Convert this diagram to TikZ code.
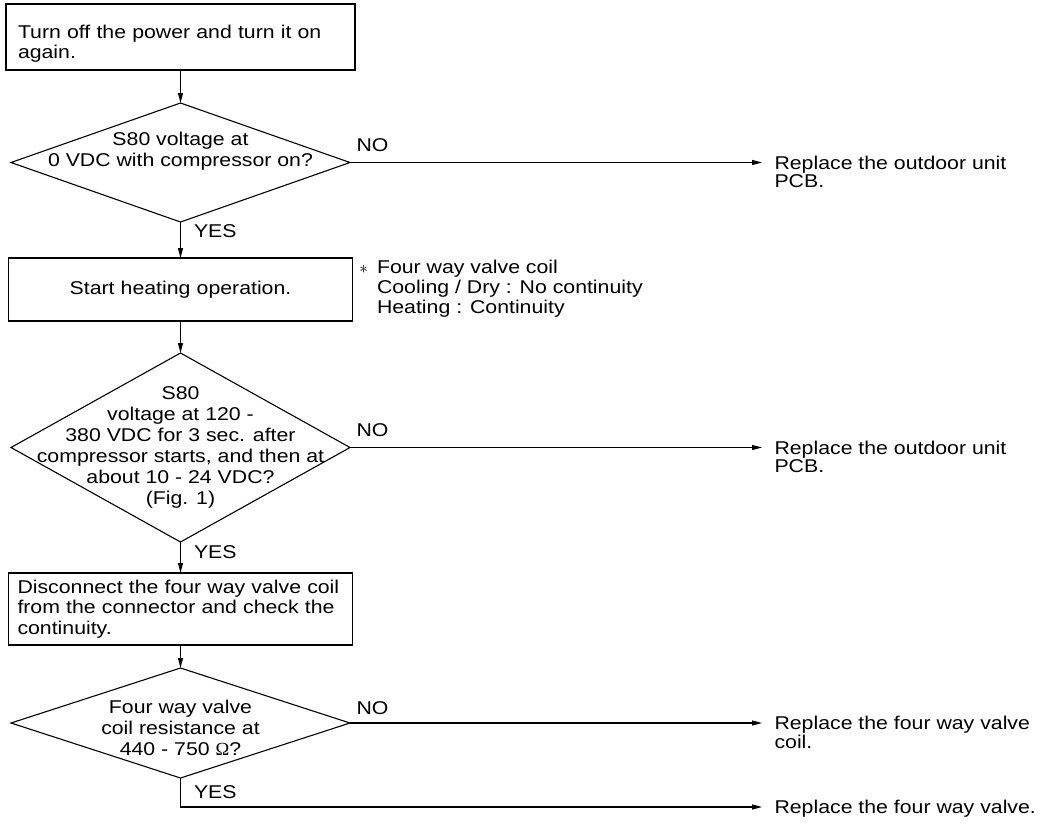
\documentclass[tikz,border=0pt]{standalone}
\usepackage{fontspec}
\setmainfont{Liberation Sans}[FakeStretch=1.15]
\newfontfamily\omegafont{Liberation Serif}
\usetikzlibrary{arrows.meta,positioning,shapes.geometric}

\begin{document}
\begin{tikzpicture}[
  x=1pt,y=-1pt,
  line width=1.1pt,
  font=\fontsize{18.5}{20.5}\selectfont,
  box/.style={draw,rectangle,inner ysep=0pt,outer sep=0pt,align=left},
  dia/.style={draw,diamond,minimum width=339pt,inner sep=0pt,outer sep=0pt},
  dtext/.style={align=center,inner sep=0pt,font=\fontsize{18.5}{21}\selectfont},
  res/.style={anchor=north west,align=left,inner sep=0pt,font=\fontsize{18.5}{18.5}\selectfont},
  lab/.style={inner sep=0pt},
  arr/.style={-{Triangle[length=10pt,width=5pt]}}
]
\useasboundingbox (0,0) rectangle (1044,823);
\coordinate (out) at (762,0);

\node[box,text width=325pt,inner xsep=12pt,minimum height=66pt] (power) at (180.5,37) {\rule{0pt}{27pt}Turn off the power and turn it on\\again.};
\node[dia,minimum height=119pt,below=33pt of power] (zero) {};
\node[dtext] (zerotext) at ([yshift=11pt]zero.center) {S80 voltage at\\0 VDC with compressor on?};
\node[box,text width=344pt,inner xsep=0pt,minimum height=63pt,align=center,below=36pt of zero] (heat) {Start heating operation.};
\node[res,font=\fontsize{18.5}{20}\selectfont] (note) at ([xshift=24pt,yshift=-2pt]heat.north east) {\llap{$\ast$\hspace{9pt}}Four way valve coil\\Cooling / Dry : No continuity\\Heating : Continuity};
\node[dia,minimum height=189pt,below=32pt of heat] (range) {};
\node[dtext] (rangetext) at (range.center) {S80\\voltage at 120 -\\380 VDC for 3 sec. after\\compressor starts, and then at\\about 10 - 24 VDC?\\(Fig. 1)};
\node[box,text width=326pt,inner xsep=9pt,minimum height=72pt,below=31pt of range] (coil) {Disconnect the four way valve coil\\from the connector and check the\\continuity.};
\node[dia,minimum height=110pt,below=23pt of coil] (ohm) {};
\node[dtext] (ohmtext) at ([yshift=-5pt]ohm.center) {Four way valve\\coil resistance at\\440 - 750 {\omegafont Ω}?};

% main line
\draw[arr] (power) -- (zero);
\draw[arr] (zero) -- (heat);
\draw[arr] (heat) -- (range);
\draw[arr] (range) -- (coil);
\draw[arr] (coil) -- (ohm);
\node[lab,anchor=north west] (yesA) at ([xshift=13pt,yshift=-2pt]zero.south) {YES};
\node[lab,anchor=north west] (yesB) at ([xshift=13pt,yshift=-3pt]range.south) {YES};
\node[lab,anchor=north west] (yesC) at ([xshift=13pt,yshift=-7pt]ohm.south) {YES};

% NO branches
\draw[arr] (zero.east) -- (zero.east -| out);
\draw[arr] (range.east) -- (range.east -| out);
\draw[arr] (ohm.east) -- (ohm.east -| out);
\node[lab,anchor=south west] (noA) at ([xshift=6pt,yshift=10pt]zero.east) {NO};
\node[lab,anchor=south west] (noB) at ([xshift=6pt,yshift=10pt]range.east) {NO};
\node[lab,anchor=south west] (noC) at ([xshift=6pt,yshift=8pt]ohm.east) {NO};
\node[res] (pcbA) at ([xshift=12pt,yshift=7pt]zero.east -| out) {Replace the outdoor unit\\PCB.};
\node[res] (pcbB) at ([xshift=12pt,yshift=7pt]range.east -| out) {Replace the outdoor unit\\PCB.};
\node[res] (coilrep) at ([xshift=12pt,yshift=7pt]ohm.east -| out) {Replace the four way valve\\coil.};

% last YES
\coordinate (valveend) at ([yshift=-29pt]ohm.south -| out);
\draw[arr] (ohm.south) |- (valveend);
\node[res] (valverep) at ([xshift=12pt,yshift=7pt]valveend) {Replace the four way valve.};
\end{tikzpicture}
\end{document}
